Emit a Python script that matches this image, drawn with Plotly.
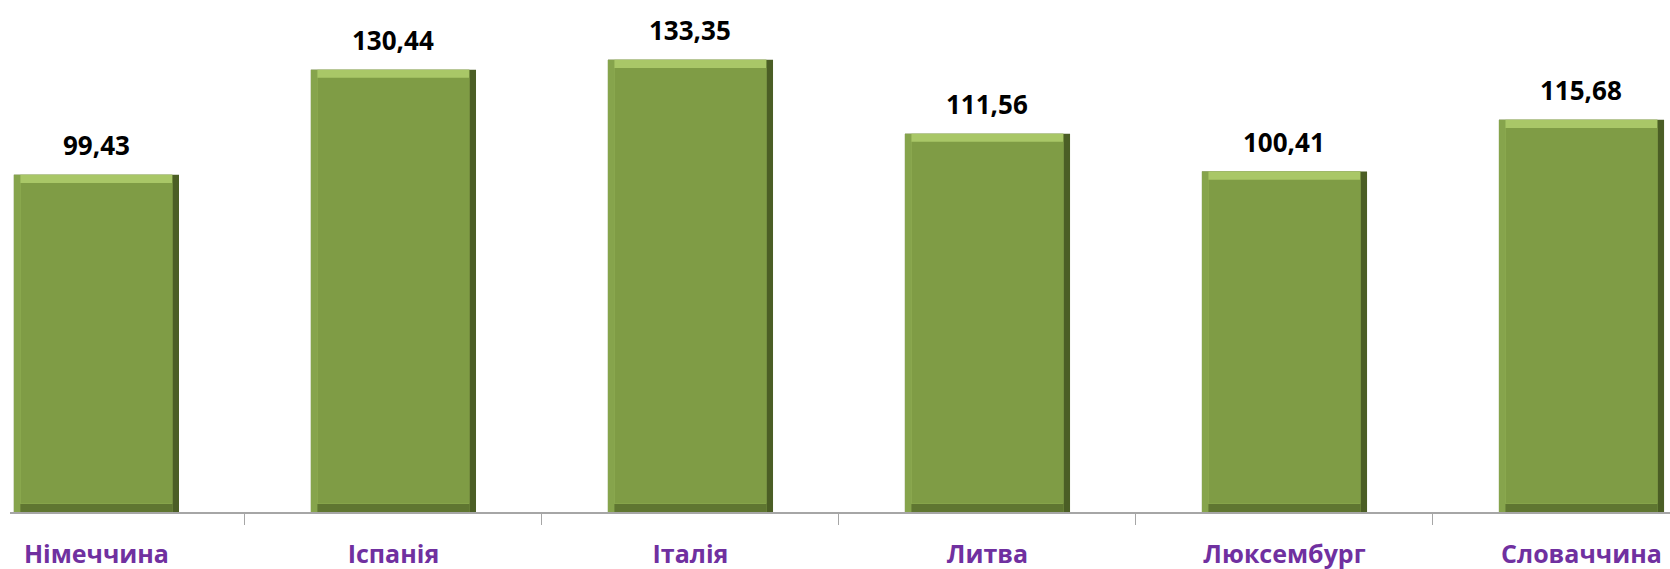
import plotly.graph_objects as go

countries = ["Німеччина", "Іспанія", "Італія", "Литва", "Люксембург", "Словаччина"]
values = [99.43, 130.44, 133.35, 111.56, 100.41, 115.68]
labels = ["99,43", "130,44", "133,35", "111,56", "100,41", "115,68"]

BAR_W = 0.556
EDGE = 2.4  # bevel depth in data units

fig = go.Figure()

# dark outer shell (right / bottom bevel)
fig.add_trace(go.Bar(x=countries, y=values, width=BAR_W, marker=dict(color="#4B5E25", line=dict(width=0)),
                     hoverinfo="skip"))
# left bevel, slightly lighter
fig.add_trace(go.Bar(x=countries, y=values, width=BAR_W - 0.022, offset=-BAR_W / 2,
                     marker=dict(color="#86A44C", line=dict(width=0)), hoverinfo="skip"))
# bottom bevel shade
fig.add_trace(go.Bar(x=countries, y=[EDGE] * len(values), width=BAR_W - 0.045, offset=-BAR_W / 2 + 0.022,
                     marker=dict(color="#5F7631", line=dict(width=0)), hoverinfo="skip"))
# top highlight
fig.add_trace(go.Bar(x=countries, y=[v - EDGE for v in values], base=EDGE, width=BAR_W - 0.045,
                     offset=-BAR_W / 2 + 0.022,
                     marker=dict(color="#A9C767", line=dict(width=0)), hoverinfo="skip"))
# main face
fig.add_trace(go.Bar(x=countries, y=[v - 2 * EDGE for v in values], base=EDGE, width=BAR_W - 0.045,
                     offset=-BAR_W / 2 + 0.022,
                     marker=dict(color="#7F9C45", line=dict(width=0)),
                     hovertemplate="%{x}: %{customdata}<extra></extra>", customdata=labels))

for c, v, t in zip(countries, values, labels):
    fig.add_annotation(x=c, y=v, text=t, showarrow=False, yanchor="bottom", yshift=10,
                       font=dict(family="Open Sans", size=26, color="#000000", weight="bold"))

fig.update_layout(
    barmode="overlay",
    width=1670,
    height=569,
    margin=dict(l=10, r=0, t=0, b=57),
    paper_bgcolor="white",
    plot_bgcolor="white",
    showlegend=False,
    xaxis=dict(
        range=[-0.291, 5.298],
        showline=True,
        linecolor="#A6A6A6",
        linewidth=1.5,
        ticks="outside",
        tickson="boundaries",
        ticklen=11,
        tickcolor="#A6A6A6",
        tickfont=dict(family="Open Sans", size=25, color="#7030A0", weight="bold"),
        ticklabelstandoff=19,
        showgrid=False,
        fixedrange=True,
    ),
    yaxis=dict(range=[0, 151], visible=False, showgrid=False, fixedrange=True),
)

fig.write_html("out.html", config={"displayModeBar": False},
               post_script="document.body.style.margin='0';")
